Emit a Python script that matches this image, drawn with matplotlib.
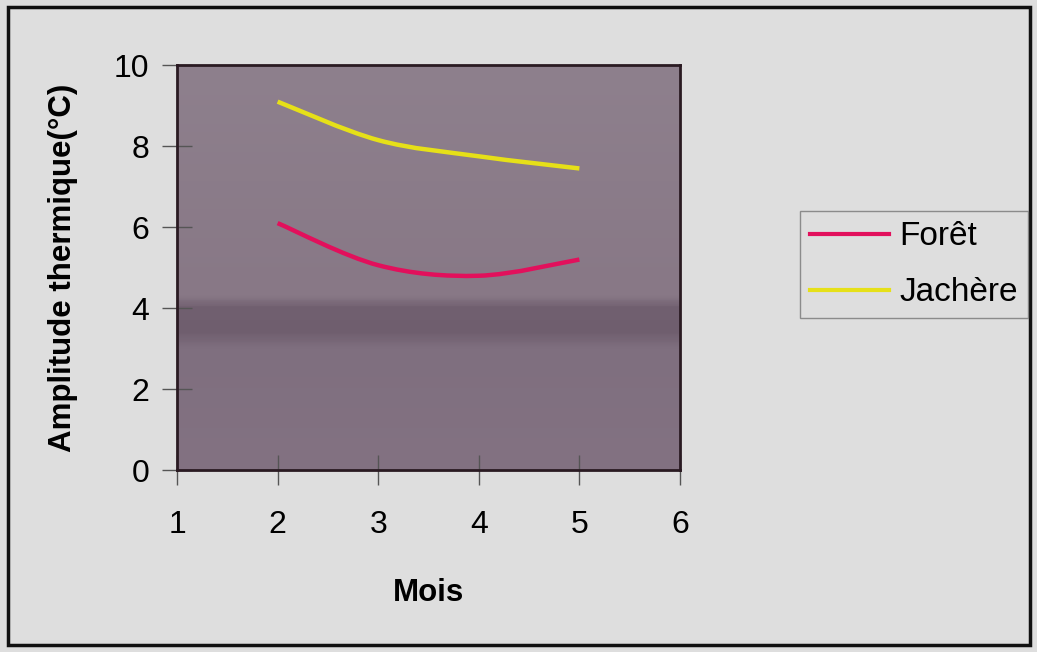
import numpy as np
import matplotlib.pyplot as plt
from matplotlib.path import Path
from matplotlib.patches import PathPatch, Rectangle
from matplotlib.lines import Line2D
from matplotlib.colors import LinearSegmentedColormap

plt.rcParams['font.family'] = ['Liberation Sans', 'DejaVu Sans']

mois = [2, 3, 4, 5]
foret = [6.1, 5.06, 4.8, 5.2]
jachere = [9.1, 8.15, 7.75, 7.45]

colors = {'Forêt': '#e2105c', 'Jachère': '#e6e018'}


def smooth_path(x, y, tension=0.5):
    # Catmull-Rom style bezier through the points
    x = np.asarray(x, float)
    y = np.asarray(y, float)
    pts = np.column_stack([x, y])
    verts = [pts[0]]
    codes = [Path.MOVETO]
    n = len(pts)
    for i in range(n - 1):
        p0 = pts[i - 1] if i > 0 else pts[i]
        p1 = pts[i]
        p2 = pts[i + 1]
        p3 = pts[i + 2] if i + 2 < n else pts[i + 1]
        c1 = p1 + (p2 - p0) * tension / 3
        c2 = p2 - (p3 - p1) * tension / 3
        verts += [c1, c2, p2]
        codes += [Path.CURVE4] * 3
    return Path(verts, codes)


fig = plt.figure(figsize=(10.37, 6.52), dpi=100, facecolor='#dedede')
ax = fig.add_axes([0.1707, 0.279, 0.485, 0.621])

# plot area fill, slightly darker band in the lower half
bg = LinearSegmentedColormap.from_list('bg', [
    (0.0, '#837282'), (0.30, '#7f6f7f'), (0.34, '#6f5e6e'), (0.40, '#716070'),
    (0.43, '#887886'), (1.0, '#8e808d')])
ax.imshow(np.linspace(0, 1, 200).reshape(-1, 1), cmap=bg, aspect='auto',
          origin='lower', extent=(0, 1, 0, 1), transform=ax.transAxes, zorder=0)

for name, vals in [('Forêt', foret), ('Jachère', jachere)]:
    ax.add_patch(PathPatch(smooth_path(mois, vals), facecolor='none',
                           edgecolor=colors[name], lw=3.2, capstyle='butt', zorder=3))

ax.set_xlim(1, 6)
ax.set_ylim(0, 10)
ax.set_xticks(range(1, 7))
ax.set_yticks(range(0, 11, 2))
ax.tick_params(axis='y', direction='inout', length=22, width=1, colors='#555555',
               labelcolor='black', labelsize=23, pad=9)
ax.tick_params(axis='x', direction='inout', length=22, width=1, colors='#555555',
               labelcolor='black', labelsize=23, pad=18)
for s in ax.spines.values():
    s.set_color('#2a1a22')
    s.set_linewidth(2)
    s.set_zorder(4)

ax.set_xlabel('Mois', fontsize=22.5, fontweight='bold', labelpad=27)
ax.set_ylabel('Amplitude thermique(°C)', fontsize=22.5, fontweight='bold', labelpad=26)

handles = [Line2D([], [], color=colors[n], lw=3) for n in colors]
leg = fig.legend(handles, list(colors), loc='upper left',
                 bbox_to_anchor=(0.7715, 0.676), fontsize=24, frameon=True,
                 fancybox=False, edgecolor='#777777', facecolor='#dedede',
                 handlelength=2.37, handletextpad=0.3, borderpad=0.3,
                 labelspacing=0.75, borderaxespad=0)
leg.get_frame().set_linewidth(1)

fig.add_artist(Rectangle((0.008, 0.01), 0.985, 0.98, transform=fig.transFigure,
                         fill=False, edgecolor='#111111', lw=2.5))

fig.savefig('out.png', dpi=100, facecolor=fig.get_facecolor())
